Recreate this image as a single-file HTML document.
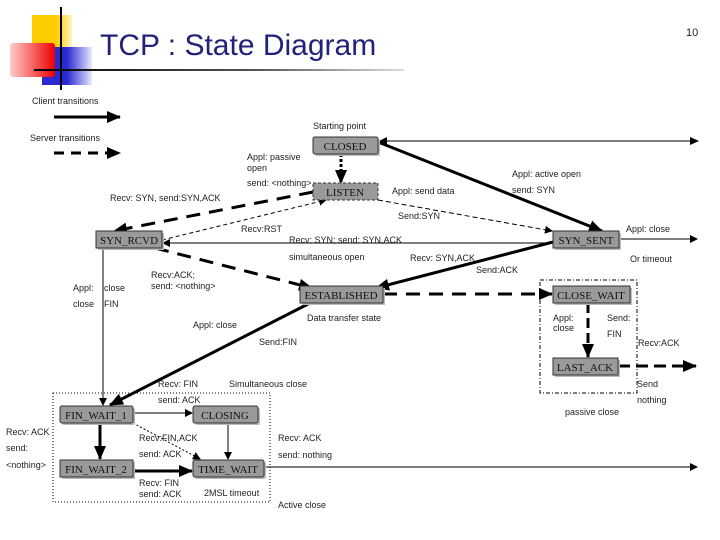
<!DOCTYPE html>
<html><head><meta charset="utf-8"><style>
html,body{margin:0;padding:0;background:#fff;}
svg{display:block;}
text{font-family:"Liberation Sans",sans-serif;font-size:9px;fill:#222;}
.n{font-family:"Liberation Serif",serif;font-size:11px;fill:#111;}
</style></head><body>
<svg width="720" height="540" viewBox="0 0 720 540" xmlns="http://www.w3.org/2000/svg">
<defs>
<linearGradient id="hl" x1="0" x2="1"><stop offset="0" stop-color="#000"/><stop offset="0.6" stop-color="#555"/><stop offset="1" stop-color="#ddd"/></linearGradient>
<linearGradient id="rd" x1="1" x2="0"><stop offset="0" stop-color="#e00"/><stop offset="1" stop-color="#fcc"/></linearGradient>
<linearGradient id="bl" x1="0" x2="1"><stop offset="0.5" stop-color="#2a2ad0"/><stop offset="1" stop-color="#e8e8ff"/></linearGradient>
<linearGradient id="yl" x1="0" x2="1"><stop offset="0.6" stop-color="#ffcc00"/><stop offset="1" stop-color="#fff4c0"/></linearGradient>
<marker id="a" markerWidth="8" markerHeight="8" refX="7" refY="4" orient="auto" markerUnits="userSpaceOnUse"><path d="M0,0 L8,4 L0,8z" fill="#000"/></marker>
<marker id="A" markerWidth="14" markerHeight="12" refX="13" refY="6" orient="auto" markerUnits="userSpaceOnUse"><path d="M0,0 L14,6 L0,12z" fill="#000"/></marker>
</defs>
<rect x="32" y="15" width="40" height="32" fill="url(#yl)"/>
<rect x="42" y="47" width="50" height="38" fill="url(#bl)"/>
<rect x="10" y="43" width="45" height="34" rx="3" fill="url(#rd)"/>
<line x1="61" y1="7" x2="61" y2="90" stroke="#000" stroke-width="2"/>
<rect x="34" y="69" width="370" height="2" fill="url(#hl)"/>
<text x="100" y="55" style="font-size:30px;fill:#22227a">TCP : State Diagram</text>
<text x="686" y="36" style="font-size:11px">10</text>

<text x="32" y="104">Client transitions</text>
<line x1="54" y1="117" x2="120" y2="117" stroke="#000" stroke-width="3" marker-end="url(#A)"/>
<text x="30" y="141">Server transitions</text>
<line x1="54" y1="153" x2="120" y2="153" stroke="#000" stroke-width="3" stroke-dasharray="10,7" marker-end="url(#A)"/>

<line x1="341" y1="154" x2="341" y2="183" stroke="#000" stroke-width="3" stroke-dasharray="3,2" marker-end="url(#A)"/>
<line x1="697" y1="141" x2="380" y2="141" stroke="#000" stroke-width="1" marker-end="url(#a)"/>
<path d="M690,137 L699,141 L690,145z" fill="#000"/>
<line x1="378" y1="142" x2="602" y2="231" stroke="#000" stroke-width="3" marker-end="url(#A)"/>
<line x1="313" y1="192" x2="114" y2="231" stroke="#000" stroke-width="3" stroke-dasharray="14,9" marker-end="url(#A)"/>
<line x1="162" y1="240" x2="326" y2="200" stroke="#000" stroke-width="1" stroke-dasharray="4,3" marker-end="url(#a)"/>
<line x1="378" y1="200" x2="552" y2="231" stroke="#000" stroke-width="1" stroke-dasharray="5,3" marker-end="url(#a)"/>
<line x1="553" y1="243" x2="163" y2="243" stroke="#000" stroke-width="1" marker-end="url(#a)"/>
<line x1="553" y1="242" x2="376" y2="288" stroke="#000" stroke-width="3" marker-end="url(#A)"/>
<line x1="155" y1="248" x2="312" y2="288" stroke="#000" stroke-width="3" stroke-dasharray="14,9" marker-end="url(#A)"/>
<line x1="619" y1="239" x2="697" y2="239" stroke="#000" stroke-width="1" marker-end="url(#a)"/>
<line x1="103" y1="248" x2="103" y2="405" stroke="#000" stroke-width="1" marker-end="url(#a)"/>
<line x1="310" y1="303" x2="110" y2="405" stroke="#000" stroke-width="3" marker-end="url(#A)"/>
<line x1="383" y1="294" x2="552" y2="294" stroke="#000" stroke-width="3" stroke-dasharray="14,9" marker-end="url(#A)"/>
<line x1="588" y1="303" x2="588" y2="357" stroke="#000" stroke-width="3" stroke-dasharray="10,5" marker-end="url(#A)"/>
<line x1="618" y1="366" x2="696" y2="366" stroke="#000" stroke-width="3" stroke-dasharray="12,6" marker-end="url(#A)"/>
<line x1="133" y1="413" x2="192" y2="413" stroke="#000" stroke-width="1" marker-end="url(#a)"/>
<line x1="100" y1="423" x2="100" y2="459" stroke="#000" stroke-width="3" marker-end="url(#A)"/>
<line x1="133" y1="423" x2="200" y2="459" stroke="#000" stroke-width="1" stroke-dasharray="2,2" marker-end="url(#a)"/>
<line x1="228" y1="423" x2="228" y2="459" stroke="#000" stroke-width="1" marker-end="url(#a)"/>
<line x1="133" y1="471" x2="192" y2="471" stroke="#000" stroke-width="3" marker-end="url(#A)"/>
<line x1="264" y1="467" x2="697" y2="467" stroke="#000" stroke-width="1" marker-end="url(#a)"/>

<rect x="53" y="393" width="217" height="109" fill="none" stroke="#000" stroke-width="1" stroke-dasharray="1,2"/>
<rect x="540" y="280" width="97" height="113" fill="none" stroke="#000" stroke-width="1" stroke-dasharray="4,2,1,2"/>

<g fill="#bbb">
<rect x="315" y="139" width="65" height="17" rx="2"/>
<rect x="98" y="233" width="66" height="17"/>
<rect x="555" y="233" width="66" height="17"/>
<rect x="302" y="288" width="83" height="17"/>
<rect x="555" y="288" width="77" height="17"/>
<rect x="555" y="360" width="65" height="17"/>
<rect x="62" y="408" width="73" height="17" rx="2"/>
<rect x="195" y="408" width="65" height="17" rx="2"/>
<rect x="62" y="462" width="73" height="17"/>
<rect x="195" y="462" width="71" height="17" rx="2"/>
</g>
<g fill="#9a9a9a" stroke="#333" stroke-width="1">
<rect x="313" y="137" width="65" height="17" rx="2"/>
<rect x="313" y="183" width="65" height="17" stroke-dasharray="3,2"/>
<rect x="96" y="231" width="66" height="17"/>
<rect x="553" y="231" width="66" height="17"/>
<rect x="300" y="286" width="83" height="17"/>
<rect x="553" y="286" width="77" height="17"/>
<rect x="553" y="358" width="65" height="17"/>
<rect x="60" y="406" width="73" height="17" rx="2"/>
<rect x="193" y="406" width="65" height="17" rx="2"/>
<rect x="60" y="460" width="73" height="17"/>
<rect x="193" y="460" width="71" height="17" rx="2"/>
</g>
<g class="n" text-anchor="middle">
<text class="n" x="345" y="150">CLOSED</text>
<text class="n" x="345" y="196">LISTEN</text>
<text class="n" x="129" y="244">SYN_RCVD</text>
<text class="n" x="586" y="244">SYN_SENT</text>
<text class="n" x="341" y="299">ESTABLISHED</text>
<text class="n" x="591" y="299">CLOSE_WAIT</text>
<text class="n" x="585" y="371">LAST_ACK</text>
<text class="n" x="96" y="419">FIN_WAIT_1</text>
<text class="n" x="225" y="419">CLOSING</text>
<text class="n" x="96" y="473">FIN_WAIT_2</text>
<text class="n" x="228" y="473">TIME_WAIT</text>
</g>

<text x="313" y="129">Starting point</text>
<text x="247" y="160">Appl: passive</text>
<text x="247" y="171">open</text>
<text x="247" y="186">send: &lt;nothing&gt;</text>
<text x="110" y="201">Recv: SYN, send:SYN,ACK</text>
<text x="392" y="194">Appl: send data</text>
<text x="512" y="177">Appl: active open</text>
<text x="512" y="193">send: SYN</text>
<text x="398" y="219">Send:SYN</text>
<text x="241" y="232">Recv:RST</text>
<text x="289" y="243">Recv: SYN; send: SYN,ACK</text>
<text x="626" y="232">Appl: close</text>
<text x="630" y="262">Or timeout</text>
<text x="289" y="260">simultaneous open</text>
<text x="410" y="261">Recv: SYN,ACK</text>
<text x="476" y="273">Send:ACK</text>
<text x="151" y="278">Recv:ACK;</text>
<text x="151" y="289">send: &lt;nothing&gt;</text>
<text x="73" y="291">Appl:</text>
<text x="104" y="291">close</text>
<text x="73" y="307">close</text>
<text x="104" y="307">FIN</text>
<text x="307" y="321">Data transfer state</text>
<text x="193" y="328">Appl: close</text>
<text x="259" y="345">Send:FIN</text>
<text x="553" y="321">Appl:</text>
<text x="553" y="331">close</text>
<text x="607" y="321">Send:</text>
<text x="607" y="337">FIN</text>
<text x="638" y="346">Recv:ACK</text>
<text x="637" y="387">Send</text>
<text x="637" y="403">nothing</text>
<text x="565" y="415">passive close</text>
<text x="158" y="387">Recv: FIN</text>
<text x="229" y="387">Simultaneous close</text>
<text x="158" y="403">send: ACK</text>
<text x="6" y="435">Recv: ACK</text>
<text x="6" y="451">send:</text>
<text x="6" y="468">&lt;nothing&gt;</text>
<text x="139" y="441">Recv:FIN,ACK</text>
<text x="139" y="457">send: ACK</text>
<text x="278" y="441">Recv: ACK</text>
<text x="278" y="458">send: nothing</text>
<text x="139" y="486">Recv: FIN</text>
<text x="139" y="497">send: ACK</text>
<text x="204" y="496">2MSL timeout</text>
<text x="278" y="508">Active close</text>
</svg>
</body></html>
